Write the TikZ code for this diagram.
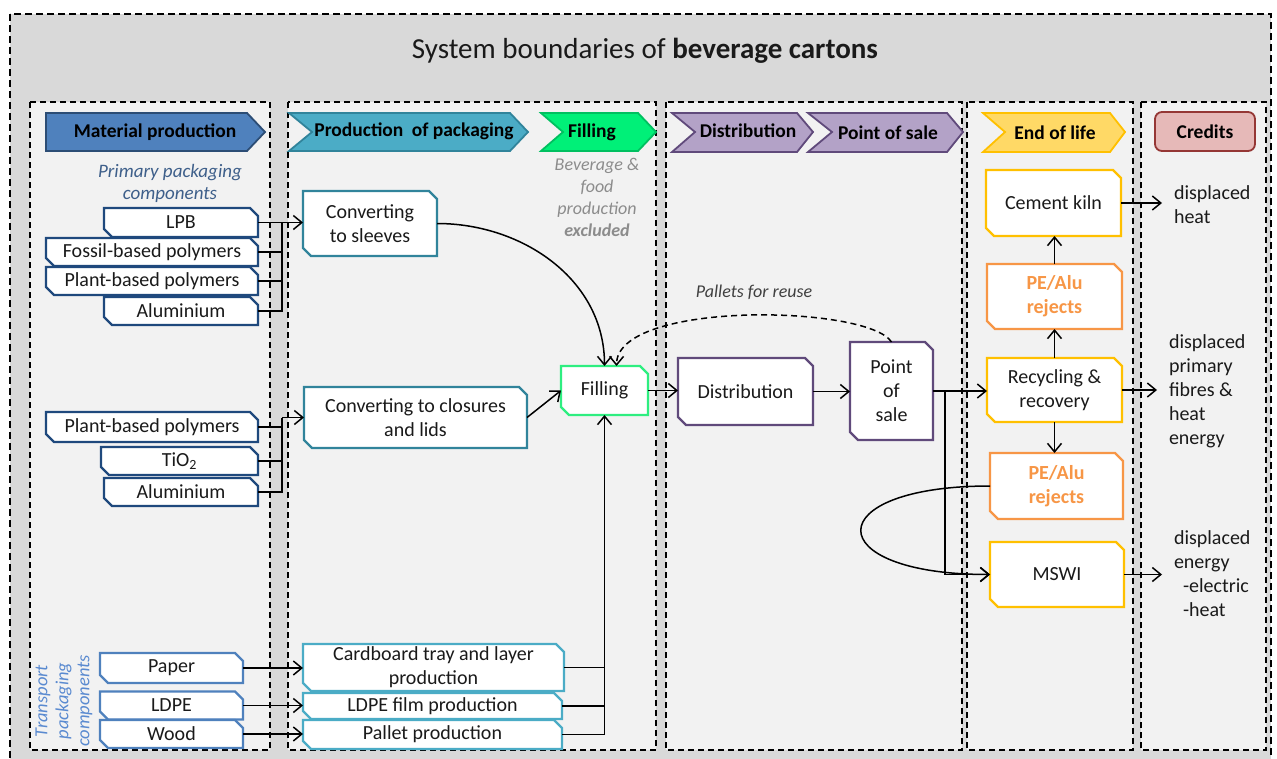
\documentclass[tikz,border=0pt]{standalone}
\usepackage{fontspec}
\setmainfont{Carlito}
\usetikzlibrary{arrows.meta}

\definecolor{outerbg}{HTML}{D9D9D9}
\definecolor{colbg}{HTML}{F2F2F2}
\definecolor{matfill}{HTML}{4F81BD}
\definecolor{matline}{HTML}{2C4D75}
\definecolor{matbox}{HTML}{1F497D}
\definecolor{trbox}{HTML}{4F81BD}
\definecolor{prodfill}{HTML}{4BACC6}
\definecolor{prodline}{HTML}{31849B}
\definecolor{trprod}{HTML}{4BACC6}
\definecolor{fillfill}{HTML}{00F078}
\definecolor{fillline}{HTML}{00C060}
\definecolor{fillnode}{HTML}{2EEE80}
\definecolor{purfill}{HTML}{B3A2C7}
\definecolor{purline}{HTML}{604A7B}
\definecolor{eolfill}{HTML}{FFD966}
\definecolor{eolline}{HTML}{FFC000}
\definecolor{rejline}{HTML}{F79646}
\definecolor{credfill}{HTML}{E6B9B8}
\definecolor{credline}{HTML}{953735}
\definecolor{primtxt}{HTML}{3E5F8A}
\definecolor{trtxt}{HTML}{5A8AD0}
\definecolor{graytxt}{HTML}{8C8C8C}
\definecolor{notetxt}{HTML}{404040}
\definecolor{bodytxt}{HTML}{1A1A1A}

% rectangle with snipped north-east and south-west corners
\makeatletter
\newdimen\snipxa \newdimen\snipya \newdimen\snipxb \newdimen\snipyb
\def\snipcut{8pt}
\pgfdeclareshape{snipbox}{%
  \inheritsavedanchors[from=rectangle]%
  \inheritanchorborder[from=rectangle]%
  \inheritanchor[from=rectangle]{center}%
  \inheritanchor[from=rectangle]{north}%
  \inheritanchor[from=rectangle]{south}%
  \inheritanchor[from=rectangle]{east}%
  \inheritanchor[from=rectangle]{west}%
  \inheritanchor[from=rectangle]{north east}%
  \inheritanchor[from=rectangle]{north west}%
  \inheritanchor[from=rectangle]{south east}%
  \inheritanchor[from=rectangle]{south west}%
  \inheritanchor[from=rectangle]{text}%
  \inheritanchor[from=rectangle]{base}%
  \inheritanchor[from=rectangle]{mid}%
  \backgroundpath{%
    \southwest \snipxa=\pgf@x \snipya=\pgf@y
    \northeast \snipxb=\pgf@x \snipyb=\pgf@y
    \pgfpathmoveto{\pgfqpoint{\snipxa}{\snipyb}}%
    \pgfpathlineto{\pgfqpoint{\dimexpr\snipxb-\snipcut\relax}{\snipyb}}%
    \pgfpathlineto{\pgfqpoint{\snipxb}{\dimexpr\snipyb-\snipcut\relax}}%
    \pgfpathlineto{\pgfqpoint{\snipxb}{\snipya}}%
    \pgfpathlineto{\pgfqpoint{\dimexpr\snipxa+\snipcut\relax}{\snipya}}%
    \pgfpathlineto{\pgfqpoint{\snipxa}{\dimexpr\snipya+\snipcut\relax}}%
    \pgfpathclose
  }%
}
\makeatother

\tikzset{
  wh/.style 2 args={minimum width=#1pt, minimum height=#2pt},
  box/.style={shape=snipbox, fill=white, line width=2.2pt, inner sep=0pt,
    outer sep=0pt, align=center, text=bodytxt, font=\fontsize{20}{24}\selectfont},
  matbox/.style={box, draw=matbox},
  trbox/.style={box, draw=trbox},
  convbox/.style={box, draw=prodline},
  trprodbox/.style={box, draw=trprod},
  fillbox/.style={box, draw=fillnode},
  purbox/.style={box, draw=purline},
  eolbox/.style={box, draw=eolline},
  rejbox/.style={box, draw=rejline, text=rejline, font=\fontsize{20}{24}\selectfont\bfseries},
  colbox/.style={fill=colbg, draw=black, line width=1.2pt, dash pattern=on 6pt off 4pt},
  outerbox/.style={fill=outerbg, draw=black, line width=1.2pt, dash pattern=on 7pt off 4pt},
  hdr/.style={line width=1.8pt, line join=miter},
  hdrtext/.style={font=\fontsize{19.5}{22}\selectfont\bfseries, text=black, inner sep=0pt},
  conn/.style={line width=1.5pt, draw=black},
  arr/.style={conn, -{Straight Barb[length=8.5pt,width=14pt]}},
  credit/.style={anchor=west, align=left, inner xsep=12pt, inner ysep=0pt, outer sep=0pt,
    text=bodytxt, font=\fontsize{20}{24}\selectfont},
}

\begin{document}
\begin{tikzpicture}[x=1pt,y=-1pt]
\useasboundingbox (0,0) rectangle (1277,758);

% frame and columns
\draw[outerbox] (10,14) rectangle (1271,766);
\draw[colbox] (30,102) rectangle (270,750);
\draw[colbox] (288,102) rectangle (656,750);
\draw[colbox] (666,102) rectangle (962,750);
\draw[colbox] (967,102) rectangle (1133,750);
\draw[colbox] (1141,102) rectangle (1266,750);

\node[font=\fontsize{29}{34}\selectfont, text=bodytxt] (title) at (645,51)
  {System boundaries of \textbf{beverage cartons}};

% stage headers
\draw[hdr, fill=matfill, draw=matline] (46,113) -- (247,113) -- (265,132) -- (247,151) -- (46,151) -- cycle;
\node[hdrtext] (hmat) at (155,132.5) {Material production};
\draw[hdr, fill=prodfill, draw=prodline] (289,113) -- (510,113) -- (528,132) -- (510,151) -- (289,151) -- (312,132) -- cycle;
\node[hdrtext] (hprod) at (414,131) {Production\hspace{4pt} of packaging};
\draw[hdr, fill=fillfill, draw=fillline] (541,113) -- (638,113) -- (656,132) -- (638,151) -- (541,151) -- (563,132) -- cycle;
\node[hdrtext] (hfill) at (592,132.5) {Filling};
\draw[hdr, fill=purfill, draw=purline] (672,113) -- (797,113) -- (813,132) -- (797,152) -- (672,152) -- (695,132) -- cycle;
\node[hdrtext] (hdist) at (748,130.5) {Distribution};
\draw[hdr, fill=purfill, draw=purline] (808,113) -- (947,113) -- (963,132) -- (947,152) -- (808,152) -- (832,132) -- cycle;
\node[hdrtext] (hpos) at (888,132.5) {Point of sale};
\draw[hdr, fill=eolfill, draw=eolline] (983,113) -- (1110,113) -- (1125,132) -- (1110,152) -- (983,152) -- (1005,132) -- cycle;
\node[hdrtext] (heol) at (1055,132.5) {End of life};
\draw[hdr, fill=credfill, draw=credline, rounded corners=7pt] (1155,112) rectangle (1255,151);
\node[hdrtext] (hcred) at (1205,131.5) {Credits};

% notes
\node[align=center, text=primtxt, font=\fontsize{19}{22}\selectfont\itshape] (primary) at (170,183)
  {Primary packaging\\components};
\node[align=center, text=graytxt, font=\fontsize{18}{22}\selectfont\itshape] (excluded) at (597,197)
  {Beverage \&\\food\\production\\\textbf{excluded}};
\node[text=notetxt, font=\fontsize{18}{22}\selectfont\itshape] (reuse) at (754,292) {Pallets for reuse};
\node[rotate=90, align=center, text=trtxt, font=\fontsize{18.5}{21}\selectfont\itshape] (transport) at (64,701)
  {Transport\\packaging\\components};

% material production
\node[matbox, wh={154}{29}] (lpb) at (181,222.5) {LPB};
\node[matbox, wh={212}{28}] (fossil) at (152,252) {Fossil-based polymers};
\node[matbox, wh={212}{28}] (plant1) at (152,281) {Plant-based polymers};
\node[matbox, wh={154}{28}] (alu1) at (181,311) {Aluminium};
\node[matbox, wh={212}{30}] (plant2) at (152,427) {Plant-based polymers};
\node[matbox, wh={157}{28}] (tio2) at (179.5,461) {TiO\textsubscript{2}};
\node[matbox, wh={154}{28}] (alu2) at (181,492) {Aluminium};
\node[trbox, wh={143}{30}] (paper) at (171.5,668) {Paper};
\node[trbox, wh={143}{28}] (ldpe) at (171.5,705.5) {LDPE};
\node[trbox, wh={143}{28}] (wood) at (171.5,734) {Wood};

% production of packaging and filling
\node[convbox, wh={134}{65}] (sleeves) at (370,223.5) {Converting\\to sleeves};
\node[convbox, wh={223}{61}] (closures) at (415.5,417.5) {Converting to closures\\and lids};
\node[fillbox, wh={87}{49}] (filling) at (604.5,390.5) {Filling};
\node[trprodbox, wh={261}{47}] (cardboard) at (433.5,667.5) {Cardboard tray and layer\\production};
\node[trprodbox, wh={259}{26}] (film) at (432.5,706) {LDPE film production};
\node[trprodbox, wh={259}{29}] (pallet) at (432.5,734.5) {Pallet production};

% distribution and point of sale
\node[purbox, wh={135}{67}] (dist) at (745.5,391.5) {Distribution};
\node[purbox, wh={83}{98}] (pos) at (891.5,391) {Point\\of\\sale};

% end of life
\node[eolbox, wh={135}{66}] (cement) at (1053.5,203) {Cement kiln};
\node[rejbox, wh={135}{65}] (rej1) at (1054.5,296.5) {PE/Alu\\rejects};
\node[eolbox, wh={135}{64}] (rec) at (1054.5,390) {Recycling \&\\recovery};
\node[rejbox, wh={133}{66}] (rej2) at (1056.5,486) {PE/Alu\\rejects};
\node[eolbox, wh={134}{65}] (mswi) at (1057,574.5) {MSWI};

% credits
\node[credit] (heat) at (1162,205) {displaced\\heat};
\node[credit] (fibres) at (1157,391) {displaced\\primary\\fibres \&\\heat\\energy};
\node[credit] (energy) at (1162,574) {displaced\\energy\\\hspace*{9pt}-electric\\\hspace*{9pt}-heat};

% material inputs to converting
\coordinate (bus1) at (282,222.5);
\coordinate (bus2) at (282,417.5);
\draw[arr] (lpb.east) -- (lpb.east -| sleeves.west);
\draw[conn] (fossil.east) -| (bus1);
\draw[conn] (plant1.east) -| (bus1);
\draw[conn] (alu1.east) -| (bus1);
\draw[arr] (bus2) -- (closures.west);
\draw[conn] (plant2.east) -| (bus2);
\draw[conn] (tio2.east) -| (bus2);
\draw[conn] (alu2.east) -| (bus2);

% transport packaging
\draw[arr] (paper.east) -- (paper.east -| cardboard.west);
\draw[arr] (ldpe.east) -- (ldpe.east -| film.west);
\draw[arr] (wood.east) -- (wood.east -| pallet.west);
\draw[arr] (pallet.east) -| (filling.south);
\draw[conn] (cardboard.east) -- (cardboard.east -| filling.south);
\draw[conn] (film.east) -- (film.east -| filling.south);

% into filling
\draw[arr] (sleeves.east) .. controls +(86,0) and +(0,-86) .. (filling.north);
\draw[arr] (closures.east) -- (filling.west);
\draw[arr, dash pattern=on 6pt off 4pt] (pos.north) .. controls (868,305) and (617,300) .. ([xshift=12pt]filling.north);

% downstream chain
\draw[arr] (filling.east) -- (filling.east -| dist.west);
\draw[arr] (dist.east) -- (dist.east -| pos.west);
\draw[arr] (pos.east) -- (pos.east -| rec.west);
\draw[arr] (pos.east) -- ++(12,0) |- (mswi.west);
\draw[arr] (rec.north) -- (rec.north |- rej1.south);
\draw[arr] (rej1.north) -- (rej1.north |- cement.south);
\draw[arr] (rec.south) -- (rec.south |- rej2.north);
\draw[arr] (rej2.west) .. controls +(-172,0) and +(-172,0) .. (mswi.west);

% credits
\draw[arr] (cement.east) -- (cement.east -| heat.west);
\draw[arr] (rec.east) -- (rec.east -| fibres.west);
\draw[arr] (mswi.east) -- (mswi.east -| energy.west);
\end{tikzpicture}
\end{document}
